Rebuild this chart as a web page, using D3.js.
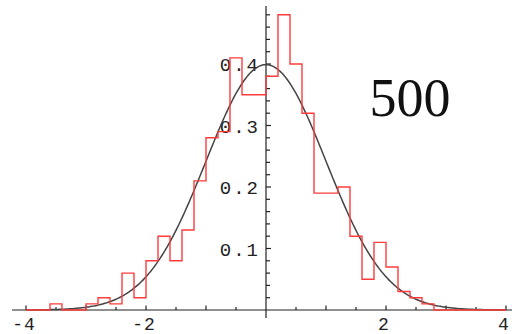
<!DOCTYPE html>
<html><head><meta charset="utf-8">
<script src="https://cdn.jsdelivr.net/npm/d3@7"></script>
<style>
html,body{margin:0;padding:0;background:#fff;}
svg{display:block;}
</style></head>
<body>
<svg id="chart" width="512" height="334"></svg>
<script>
// Histogram of 500 samples, bin width 0.2 (left edges and density heights)
const binLeft = [-4.0,-3.8,-3.6,-3.4,-3.2,-3.0,-2.8,-2.6,-2.4,-2.2,
                 -2.0,-1.8,-1.6,-1.4,-1.2,-1.0,-0.8,-0.6,-0.4,-0.2,
                  0.0, 0.2, 0.4, 0.6, 0.8, 1.0, 1.2, 1.4, 1.6, 1.8,
                  2.0, 2.2, 2.4, 2.6, 2.8, 3.0, 3.2, 3.4, 3.6, 3.8];
const density = [0, 0, 0.01, 0, 0, 0.01, 0.02, 0.01, 0.06, 0.02,
                 0.08, 0.12, 0.08, 0.13, 0.21, 0.28, 0.29, 0.41, 0.35, 0.35,
                 0.38, 0.48, 0.40, 0.32, 0.19, 0.19, 0.20, 0.12, 0.05, 0.11,
                 0.07, 0.03, 0.02, 0.01, 0, 0, 0, 0, 0, 0];
const binWidth = 0.2;
const xTickLabels = [-4, -2, 2, 4];
const yTickLabels = [0.1, 0.2, 0.3, 0.4];
const sampleLabel = "500";

const svg = d3.select("#chart");
const x = d3.scaleLinear().domain([-4, 4]).range([26, 506]);
const y = d3.scaleLinear().domain([0, 0.4]).range([310, 64]);
const mono = "'Liberation Mono','DejaVu Sans Mono',monospace";

// Axes
const axisG = svg.append("g").attr("stroke", "#222").attr("stroke-width", 1.2);
axisG.append("line").attr("x1", 12).attr("x2", 512).attr("y1", y(0)).attr("y2", y(0));
axisG.append("line").attr("x1", x(0)).attr("x2", x(0)).attr("y1", 318).attr("y2", 6);

// x ticks (every 0.5)
const xTicks = d3.range(-8, 9).map(i => i * 0.5).filter(v => v !== 0);
axisG.selectAll(".xt").data(xTicks).join("line")
  .attr("x1", d => x(d)).attr("x2", d => x(d))
  .attr("y1", y(0)).attr("y2", d => y(0) - (Number.isInteger(d) ? 4.5 : 3));
// y ticks (every 0.02)
const yTicks = d3.range(1, 25).map(i => i * 0.02);
axisG.selectAll(".yt").data(yTicks).join("line")
  .attr("x1", x(0)).attr("x2", d => x(0) + (Math.abs(d * 10 - Math.round(d * 10)) < 1e-6 ? 5 : 4))
  .attr("y1", d => y(d)).attr("y2", d => y(d));

// tick labels
svg.selectAll(".xl").data(xTickLabels).join("text")
  .attr("x", d => x(d) - 2).attr("y", 330)
  .attr("text-anchor", "middle")
  .attr("font-family", mono).attr("font-size", 18).attr("letter-spacing", 1)
  .attr("fill", "#222")
  .text(d => (d < 0 ? "-" : "") + Math.abs(d));
svg.selectAll(".yl").data(yTickLabels).join("text")
  .attr("x", x(0) - 6).attr("y", d => y(d) + 7)
  .attr("text-anchor", "end")
  .attr("font-family", mono).attr("font-size", 19).attr("letter-spacing", 2)
  .attr("fill", "#222")
  .text(d => d.toFixed(1));

// Normal density curve
const pdf = t => Math.exp(-t * t / 2) / Math.sqrt(2 * Math.PI);
const curvePts = d3.range(0, 401).map(i => -4 + i * 0.02);
svg.append("path")
  .attr("d", d3.line().x(d => x(d)).y(d => y(pdf(d)))(curvePts))
  .attr("fill", "none").attr("stroke", "#444").attr("stroke-width", 1.5);

// Histogram outline (step)
const stepPts = binLeft.map((b, i) => [b, density[i]]);
stepPts.push([binLeft[binLeft.length - 1] + binWidth, density[density.length - 1]]);
svg.append("path")
  .attr("d", d3.line().curve(d3.curveStepAfter).x(d => x(d[0])).y(d => y(d[1]))(stepPts))
  .attr("fill", "none").attr("stroke", "#ff3c3c").attr("stroke-width", 1.4);

// Sample size label
svg.append("text").attr("x", 410).attr("y", 116)
  .attr("text-anchor", "middle")
  .attr("font-family", "'Liberation Serif','Times New Roman',serif")
  .attr("font-size", 54).attr("fill", "#111")
  .text(sampleLabel);
</script>
</body></html>
